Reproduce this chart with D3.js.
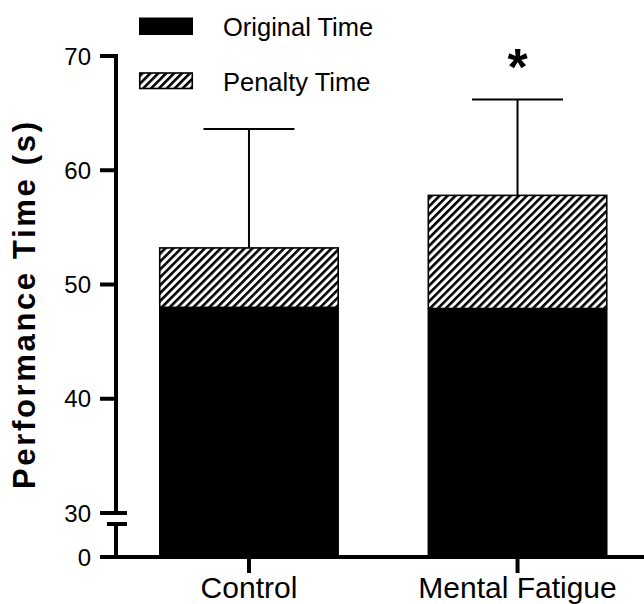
<!DOCTYPE html>
<html><head><meta charset="utf-8">
<script src="https://cdn.jsdelivr.net/npm/d3@7"></script>
<style>html,body{margin:0;padding:0;background:#fff;}svg{display:block;font-family:"Liberation Sans",Arial,sans-serif;}</style>
</head><body>
<script>
const categories = ["Control", "Mental Fatigue"];
const originalTime = [48.0, 47.9];
const penaltyTime = [5.2, 9.9];
const errorSD = [10.4, 8.4];
const significance = ["", "*"];
const yTicks = [0, 30, 40, 50, 60, 70];
const legendLabels = ["Original Time", "Penalty Time"];
const yTitle = "Performance Time (s)";

const W = 644, H = 604;
const svg = d3.select("body").append("svg").attr("width", W).attr("height", H);

const defs = svg.append("defs");
defs.append("pattern").attr("id", "hatch").attr("patternUnits", "userSpaceOnUse")
  .attr("width", 5.6).attr("height", 5.6).attr("patternTransform", "rotate(45)")
  .call(p => {
    p.append("rect").attr("width", 5.6).attr("height", 5.6).attr("fill", "#fff");
    p.append("line").attr("x1", 1.3).attr("y1", 0).attr("x2", 1.3).attr("y2", 5.6)
      .attr("stroke", "#000").attr("stroke-width", 2.6);
  });

const axisX = 116;
const y = d3.scaleLinear().domain([0, 30, 70]).range([557, 513, 56]);
const x = d3.scaleBand().domain(categories).range([159, 607.5]).paddingInner(0.33).paddingOuter(0);

const g = svg.append("g");

// bars
const stacked = categories.map((c, i) => ({c, o: originalTime[i], p: penaltyTime[i], sd: errorSD[i], s: significance[i]}));
g.selectAll("rect.orig").data(stacked).join("rect").attr("class", "orig")
  .attr("x", d => x(d.c)).attr("width", x.bandwidth())
  .attr("y", d => y(d.o)).attr("height", d => y(0) - y(d.o))
  .attr("fill", "#000");
g.selectAll("rect.pen").data(stacked).join("rect").attr("class", "pen")
  .attr("x", d => x(d.c) + 0.75).attr("width", x.bandwidth() - 1.5)
  .attr("y", d => y(d.o + d.p)).attr("height", d => y(d.o) - y(d.o + d.p))
  .attr("fill", "url(#hatch)").attr("stroke", "#000").attr("stroke-width", 1.6);

// error bars
const capHalf = 45.5;
g.selectAll("line.err").data(stacked).join("line").attr("class", "err")
  .attr("x1", d => x(d.c) + x.bandwidth() / 2).attr("x2", d => x(d.c) + x.bandwidth() / 2)
  .attr("y1", d => y(d.o + d.p)).attr("y2", d => y(d.o + d.p + d.sd))
  .attr("stroke", "#000").attr("stroke-width", 2);
g.selectAll("line.cap").data(stacked).join("line").attr("class", "cap")
  .attr("x1", d => x(d.c) + x.bandwidth() / 2 - capHalf).attr("x2", d => x(d.c) + x.bandwidth() / 2 + capHalf)
  .attr("y1", d => y(d.o + d.p + d.sd)).attr("y2", d => y(d.o + d.p + d.sd))
  .attr("stroke", "#000").attr("stroke-width", 2);
g.selectAll("text.sig").data(stacked).join("text").attr("class", "sig")
  .attr("x", d => x(d.c) + x.bandwidth() / 2).attr("y", d => y(d.o + d.p + d.sd) - 14)
  .attr("text-anchor", "middle").attr("font-weight", "bold").attr("font-size", 52)
  .text(d => d.s);

// y axis (broken)
const ax = svg.append("g").attr("stroke", "#000").attr("stroke-width", 4).attr("fill", "none");
ax.append("line").attr("x1", axisX).attr("x2", axisX).attr("y1", y(70) - 2).attr("y2", y(30));
ax.append("line").attr("x1", axisX).attr("x2", axisX).attr("y1", y(30) + 11).attr("y2", y(0));
ax.append("line").attr("x1", axisX - 9).attr("x2", axisX + 11).attr("y1", y(30) + 11).attr("y2", y(30) + 11);
ax.append("line").attr("x1", axisX + 1).attr("x2", axisX + 11).attr("y1", y(30)).attr("y2", y(30));
ax.selectAll("line.tk").data(yTicks).join("line").attr("class", "tk")
  .attr("x1", axisX - 16).attr("x2", axisX + 2).attr("y1", d => y(d)).attr("y2", d => y(d));
svg.append("g").selectAll("text").data(yTicks).join("text")
  .attr("x", axisX - 25).attr("y", d => y(d)).attr("dy", "0.36em")
  .attr("text-anchor", "end").attr("font-size", 24).attr("fill", "#000")
  .text(d => d);

// x axis
ax.append("line").attr("x1", axisX - 2).attr("x2", W).attr("y1", y(0)).attr("y2", y(0));
ax.selectAll("line.xt").data(categories).join("line").attr("class", "xt")
  .attr("x1", d => x(d) + x.bandwidth() / 2).attr("x2", d => x(d) + x.bandwidth() / 2)
  .attr("y1", y(0)).attr("y2", y(0) + 16);
svg.append("g").selectAll("text").data(categories).join("text")
  .attr("x", d => x(d) + x.bandwidth() / 2).attr("y", 598)
  .attr("text-anchor", "middle").attr("font-size", 30).attr("fill", "#000")
  .text(d => d);

// y title
svg.append("text").attr("transform", "translate(35,305.5) rotate(-90)")
  .attr("text-anchor", "middle").attr("font-weight", "bold").attr("font-size", 31)
  .attr("textLength", 367).attr("lengthAdjust", "spacing")
  .text(yTitle);

// legend
const lg = svg.append("g");
const legY = [17.5, 73];
lg.append("rect").attr("x", 139).attr("y", legY[0]).attr("width", 54).attr("height", 17.5).attr("fill", "#000");
lg.append("rect").attr("x", 139.75).attr("y", legY[1]).attr("width", 52.5).attr("height", 15.5)
  .attr("fill", "url(#hatch)").attr("stroke", "#000").attr("stroke-width", 1.6);
lg.selectAll("text").data(legendLabels).join("text")
  .attr("x", 223).attr("y", (d, i) => [36, 90.5][i])
  .attr("font-size", 25.5).attr("fill", "#000").text(d => d);
</script>
</body></html>
